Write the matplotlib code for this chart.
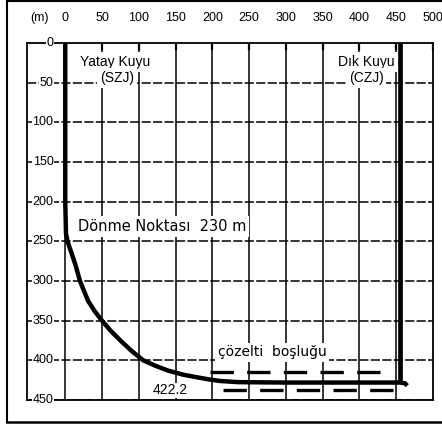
import matplotlib.pyplot as plt
from matplotlib.lines import Line2D

# Depth (m) and horizontal distance (m) of the two wells
grid_x = [0, 50, 100, 150, 200, 250, 300, 350, 400, 450, 500]
grid_depth = [0, 50, 100, 150, 200, 250, 300, 350, 400, 450]

# Horizontal well (SZJ)
szj_x = [0, 0, 1, 3, 9, 14, 20, 31, 40, 50, 62, 75, 90, 106, 123, 140, 160, 177,
         195, 210, 235, 300, 400, 455, 462, 465]
szj_depth = [0, 200, 240, 250, 266, 280, 300, 325, 338, 350, 363, 375, 388, 400, 407,
             413, 418, 421, 424, 426, 427.5, 428, 428, 428, 429, 432]

# Vertical well (CZJ)
czj_x = [455, 455]
czj_depth = [0, 428]

# Solution cavity outline (upper and lower dashed edges)
cav_top_x = [197, 437]
cav_top_depth = [415, 415]
cav_bot_x = [215, 451]
cav_bot_depth = [437, 437]

plt.rcParams['font.family'] = ['Liberation Sans', 'DejaVu Sans']

fig = plt.figure(figsize=(4.42, 4.28), dpi=100)
ax = fig.add_axes([27 / 442, 1 - 400 / 428, (433 - 27) / 442, (400 - 43) / 428])
ax.set_xlim(-52, 500)
ax.set_ylim(450, 0)

# grid: solid verticals, dashed horizontals
for gx in grid_x[:-1]:
    ax.plot([gx, gx], [0, 450], color='black', lw=1.1, zorder=1)
for gy in grid_depth[1:]:
    ax.plot([-52, 500], [gy, gy], color='black', lw=1.1, ls=(0, (6, 1.5)), zorder=1)

for s in ax.spines.values():
    s.set_linewidth(1.3)
ax.set_xticks([])
ax.set_yticks([])

# top labels
for gx in grid_x:
    ax.text(gx, -31, str(gx), ha='center', va='center', fontsize=9, clip_on=False)
    ax.plot([gx, gx], [0, 8], color='black', lw=1.6, zorder=2)
ax.text(-48, -31, '(m)', ha='left', va='center', fontsize=9, clip_on=False)

# depth labels sitting on the grid lines
for gy in grid_depth:
    ax.text(-16, gy, str(gy), ha='right', va='center', fontsize=9, zorder=3,
            bbox=dict(facecolor='white', edgecolor='none', pad=0.3))

# wells
ax.plot(szj_x, szj_depth, color='black', lw=3.2, solid_capstyle='butt', zorder=4)
ax.plot(czj_x, czj_depth, color='black', lw=3.4, solid_capstyle='butt', zorder=4)

# cavity
ax.plot(cav_top_x, cav_top_depth, color='black', lw=2.4, ls=(0, (7, 4)), zorder=4)
ax.plot(cav_bot_x, cav_bot_depth, color='black', lw=2.4, ls=(0, (7, 4)), zorder=4)

box = dict(facecolor='white', edgecolor='none', pad=2)
ax.text(68, 24, 'Yatay Kuyu', ha='center', va='center', fontsize=10, bbox=box, zorder=3)
ax.text(70, 44, '(SZJ)', ha='center', va='center', fontsize=10, bbox=box, zorder=3)
ax.text(409, 24, 'Dık Kuyu', ha='center', va='center', fontsize=10, bbox=box, zorder=3)
ax.text(409, 44, '(CZJ)', ha='center', va='center', fontsize=10, bbox=box, zorder=3)
ax.text(17, 231, 'Dönme Noktası  230 m', ha='left', va='center', fontsize=10.5,
        family=['DejaVu Sans'], bbox=box, zorder=3)
ax.text(281, 390, 'çözelti  boşluğu', ha='center', va='center', fontsize=10,
        family=['DejaVu Sans'], bbox=box, zorder=3)
ax.text(143, 438, '422.2', ha='center', va='center', fontsize=10, bbox=dict(facecolor='white', edgecolor='none', pad=0.5), zorder=3)

# outer frame of the figure
fig.add_artist(Line2D([7 / 442, 7 / 442], [1 - 422 / 428, 1 - 1 / 428], color='black', lw=1.5))
fig.add_artist(Line2D([7 / 442, 1], [1 - 422 / 428, 1 - 422 / 428], color='black', lw=1.8))
fig.add_artist(Line2D([7 / 442, 1], [1 - 1 / 428, 1 - 1 / 428], color='black', lw=1.5))

fig.savefig('out.png', dpi=100)
